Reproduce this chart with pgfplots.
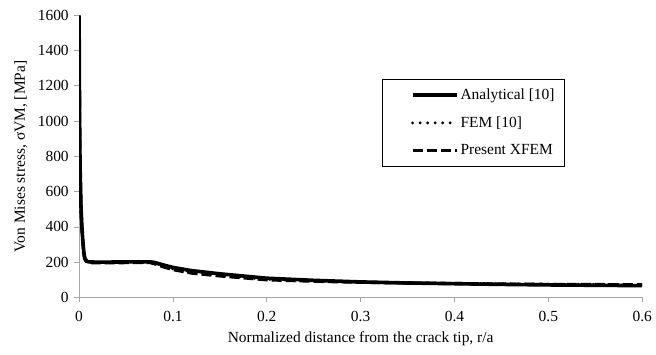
\documentclass[border={9pt 3pt -1pt 5pt}]{standalone}
\usepackage{pgfplots}
\pgfplotsset{compat=1.18}
\usepackage{fontspec}
\setmainfont{Liberation Serif}
\begin{document}
\fontsize{15.4}{18}\selectfont
\begin{tikzpicture}
\begin{axis}[
  scale only axis, width=561pt, height=281pt,
  xmin=0, xmax=0.6, ymin=0, ymax=1600,
  xtick={0,0.1,0.2,0.3,0.4,0.5,0.6},
  xticklabels={0,0.1,0.2,0.3,0.4,0.5,0.6},
  ytick={0,200,400,600,800,1000,1200,1400,1600},
  /pgf/number format/1000 sep={},
  axis x line*=bottom, axis y line*=left,
  axis line style={gray!70, line width=0.8pt},
  tick style={gray!70, line width=0.8pt},
  tick align=outside, major tick length=5pt,
  tick label style={font=\fontsize{15.4}{18}\selectfont},
  xticklabel style={yshift=-3pt},
  /pgf/number format/assume math mode=true,
  xlabel={Normalized distance from the crack tip, r/a},
  ylabel={Von Mises stress, σVM, [MPa]},
  label style={font=\fontsize{15.4}{18}\selectfont},
  legend style={at={(0.538,0.775)}, anchor=north west, draw=black, line width=0.8pt,
    font=\fontsize{15.4}{18}\selectfont, row sep=11pt, inner xsep=8pt, inner ysep=7pt,
    cells={anchor=west}},
  legend image code/.code={\path[draw=none] (0pt,-3pt) rectangle (66pt,3pt); \draw[#1] (22pt,0pt) -- (66pt,0pt);},
]
\addplot[black, line width=3.6pt, line join=round] coordinates {
(0,1600) (0.0005,1050) (0.001,760) (0.002,520) (0.003,400) (0.004,320) (0.005,260) (0.006,225) (0.008,206) (0.01,202)
(0.02,200) (0.04,201) (0.06,202) (0.075,202) (0.08,199) (0.09,184) (0.1,170) (0.12,152) (0.15,134) (0.18,119) (0.2,109)
(0.25,97) (0.3,88) (0.35,82) (0.4,78) (0.45,74) (0.5,71) (0.55,69) (0.6,67)};
\addlegendentry{Analytical [10]}
\addplot[black, line width=3.2pt, line cap=round, dash pattern=on 0pt off 7.5pt] coordinates {
(0,1500) (0.0005,1000) (0.001,740) (0.002,510) (0.003,395) (0.004,315) (0.005,255) (0.006,222) (0.008,205) (0.01,200)
(0.02,198) (0.04,199) (0.06,200) (0.075,200) (0.08,196) (0.09,178) (0.1,162) (0.12,143) (0.15,126) (0.18,112) (0.2,103)
(0.25,94) (0.3,87) (0.35,83) (0.4,80) (0.45,77) (0.5,75) (0.55,74) (0.6,73)};
\addlegendentry{FEM [10]}
\addplot[black, line width=3.2pt, dash pattern=on 10pt off 4pt] coordinates {
(0,1450) (0.0005,980) (0.001,720) (0.002,500) (0.003,390) (0.004,310) (0.005,250) (0.006,218) (0.008,203) (0.01,198)
(0.02,196) (0.04,197) (0.06,198) (0.075,198) (0.08,192) (0.09,173) (0.1,158) (0.12,138) (0.15,122) (0.18,109) (0.2,100)
(0.25,92) (0.3,86) (0.35,82) (0.4,79) (0.45,76) (0.5,74) (0.55,73) (0.6,72)};
\addlegendentry{Present XFEM}
\end{axis}
\end{tikzpicture}
\end{document}
